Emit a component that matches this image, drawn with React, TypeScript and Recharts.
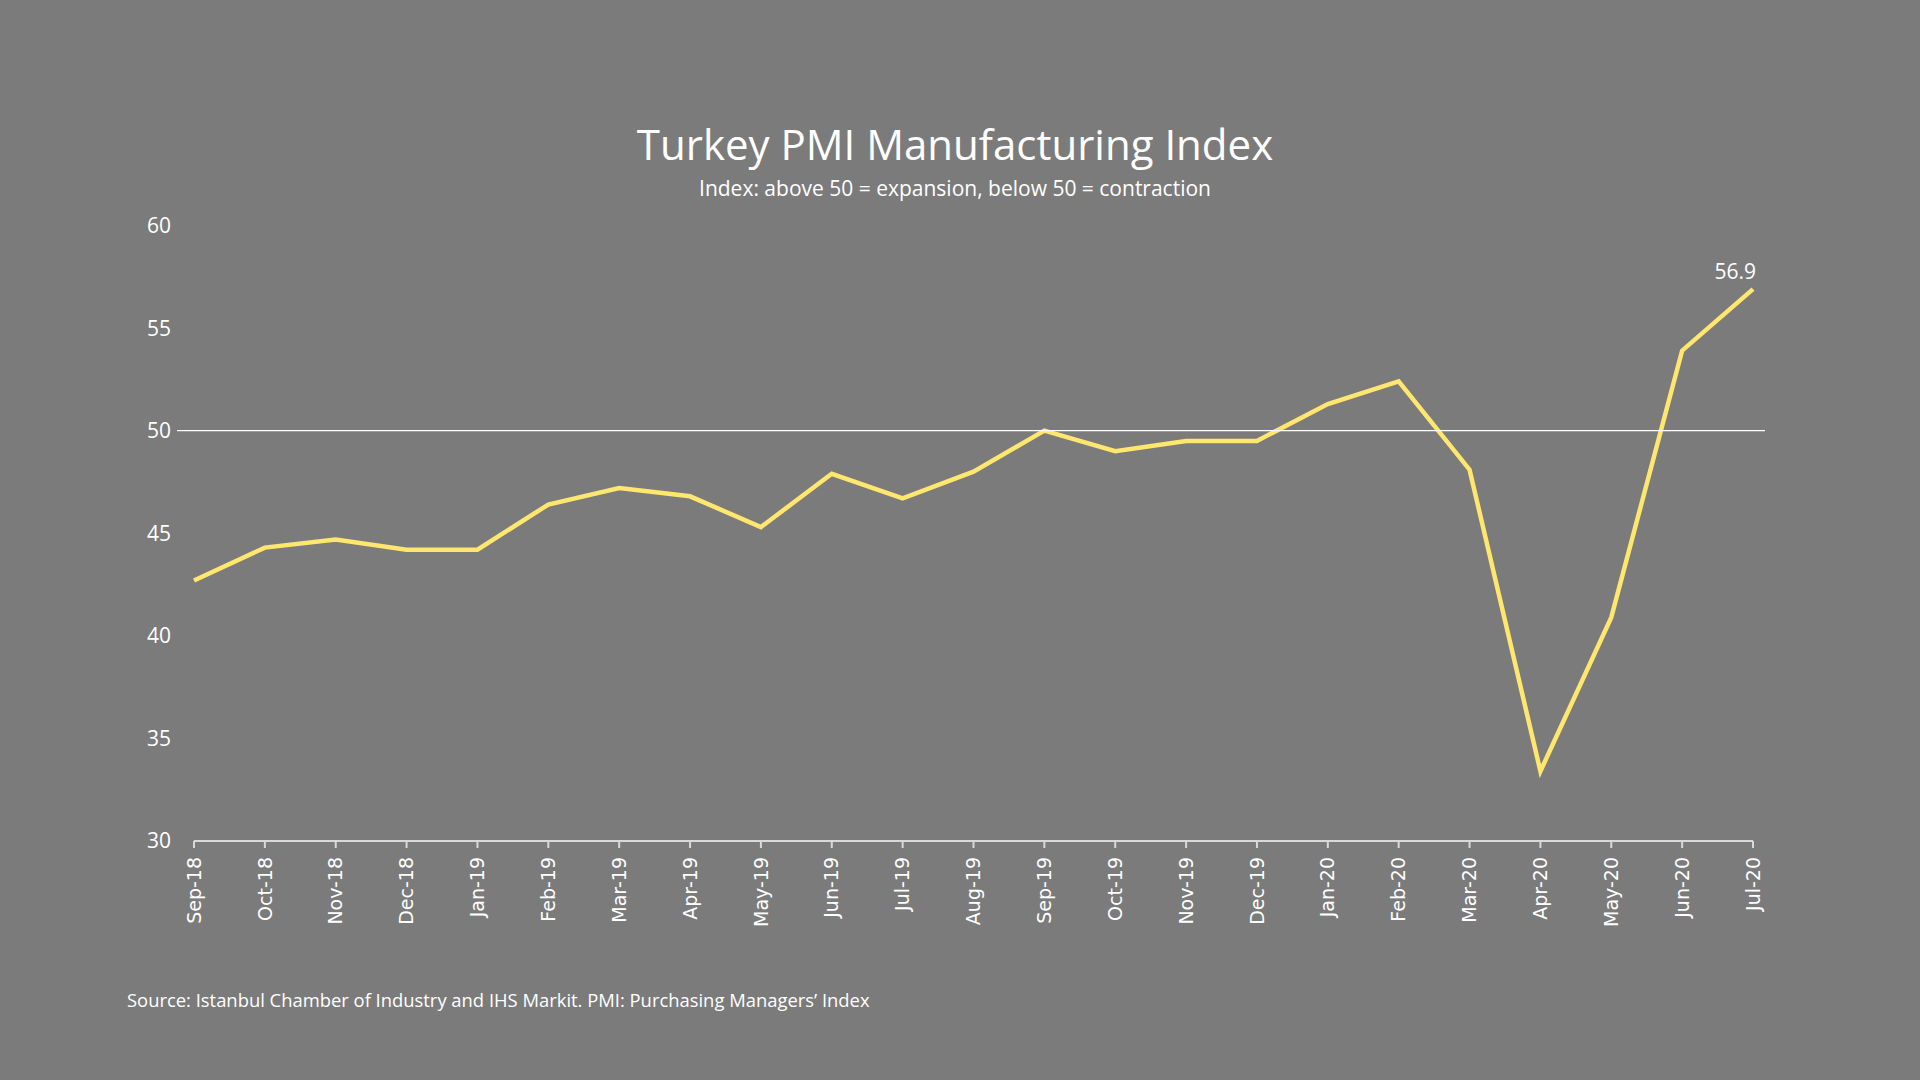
import React from 'react';
import {
  LineChart,
  Line,
  XAxis,
  YAxis,
  ReferenceLine,
  LabelList,
} from 'recharts';

// Turkey PMI (Istanbul Chamber of Industry / IHS Markit), monthly
const months = [
  'Sep-18', 'Oct-18', 'Nov-18', 'Dec-18', 'Jan-19', 'Feb-19', 'Mar-19', 'Apr-19',
  'May-19', 'Jun-19', 'Jul-19', 'Aug-19', 'Sep-19', 'Oct-19', 'Nov-19', 'Dec-19',
  'Jan-20', 'Feb-20', 'Mar-20', 'Apr-20', 'May-20', 'Jun-20', 'Jul-20',
];
const pmi = [
  42.7, 44.3, 44.7, 44.2, 44.2, 46.4, 47.2, 46.8,
  45.3, 47.9, 46.7, 48.0, 50.0, 49.0, 49.5, 49.5,
  51.3, 52.4, 48.1, 33.4, 40.9, 53.9, 56.9,
];
const yTicks = [30, 35, 40, 45, 50, 55, 60];
const threshold = 50;

const data = months.map((month, i) => ({ month, pmi: pmi[i] }));

const BG = '#7b7b7b';
const YELLOW = '#ffe66e';
const AXIS = '#d9d9d9';
const TEXT_FONT = '"Open Sans", sans-serif';

function MonthTick({ x, y, payload }: any) {
  return (
    <g transform={`translate(${x},${y})`}>
      <text
        transform="rotate(-90)"
        textAnchor="end"
        dy="0.35em"
        fill="#ffffff"
        fontSize={19}
        fontFamily='"DejaVu Sans", sans-serif'
      >
        {payload.value}
      </text>
    </g>
  );
}

// only the last point gets a value label
function LastValueLabel(props: any) {
  const { x, y, value, index } = props;
  if (index !== pmi.length - 1) return null;
  return (
    <text
      x={x + 3}
      y={y - 10}
      textAnchor="end"
      fill="#ffffff"
      fontSize={21}
      fontFamily={TEXT_FONT}
    >
      {value}
    </text>
  );
}

export default function App() {
  return (
    <div
      style={{
        position: 'absolute',
        left: 0,
        top: 0,
        width: 1920,
        height: 1080,
        background: BG,
      }}
    >
      <LineChart
        width={1920}
        height={1080}
        data={data}
        margin={{ top: 225.5, right: 155, bottom: 159, left: 117 }}
      >
        <XAxis
          dataKey="month"
          interval={0}
          padding={{ left: 17, right: 12 }}
          axisLine={false}
          tickLine={{ stroke: AXIS, strokeWidth: 2 }}
          tickSize={7}
          tickMargin={9}
          height={80}
          tick={<MonthTick />}
        />
        <YAxis
          domain={[30, 60]}
          ticks={yTicks}
          width={60}
          axisLine={false}
          tickLine={false}
          tickSize={0}
          tickMargin={6}
          tick={{ fill: '#ffffff', fontSize: 21, fontFamily: TEXT_FONT }}
        />
        <ReferenceLine
          segment={[
            { x: months[0], y: 30 },
            { x: months[months.length - 1], y: 30 },
          ]}
          stroke={AXIS}
          strokeWidth={2}
        />
        <Line
          type="linear"
          dataKey="pmi"
          stroke={YELLOW}
          strokeWidth={4.5}
          dot={false}
          activeDot={false}
          isAnimationActive={false}
        >
          <LabelList dataKey="pmi" content={<LastValueLabel />} />
        </Line>
        <ReferenceLine y={threshold} stroke="#ffffff" strokeWidth={1.3} />
      </LineChart>

      <svg
        width={1920}
        height={1080}
        style={{ position: 'absolute', left: 0, top: 0, pointerEvents: 'none' }}
      >
        <text x={955} y={160} textAnchor="middle" fill="#ffffff" fontSize={42} fontFamily={TEXT_FONT}>
          Turkey PMI Manufacturing Index
        </text>
        <text x={955} y={196} textAnchor="middle" fill="#ffffff" fontSize={21} fontFamily={TEXT_FONT}>
          Index: above 50 = expansion, below 50 = contraction
        </text>
        <text x={127} y={1007} fill="#ffffff" fontSize={18.4} fontFamily={TEXT_FONT}>
          Source: Istanbul Chamber of Industry and IHS Markit. PMI: Purchasing Managers’ Index
        </text>
      </svg>
    </div>
  );
}
